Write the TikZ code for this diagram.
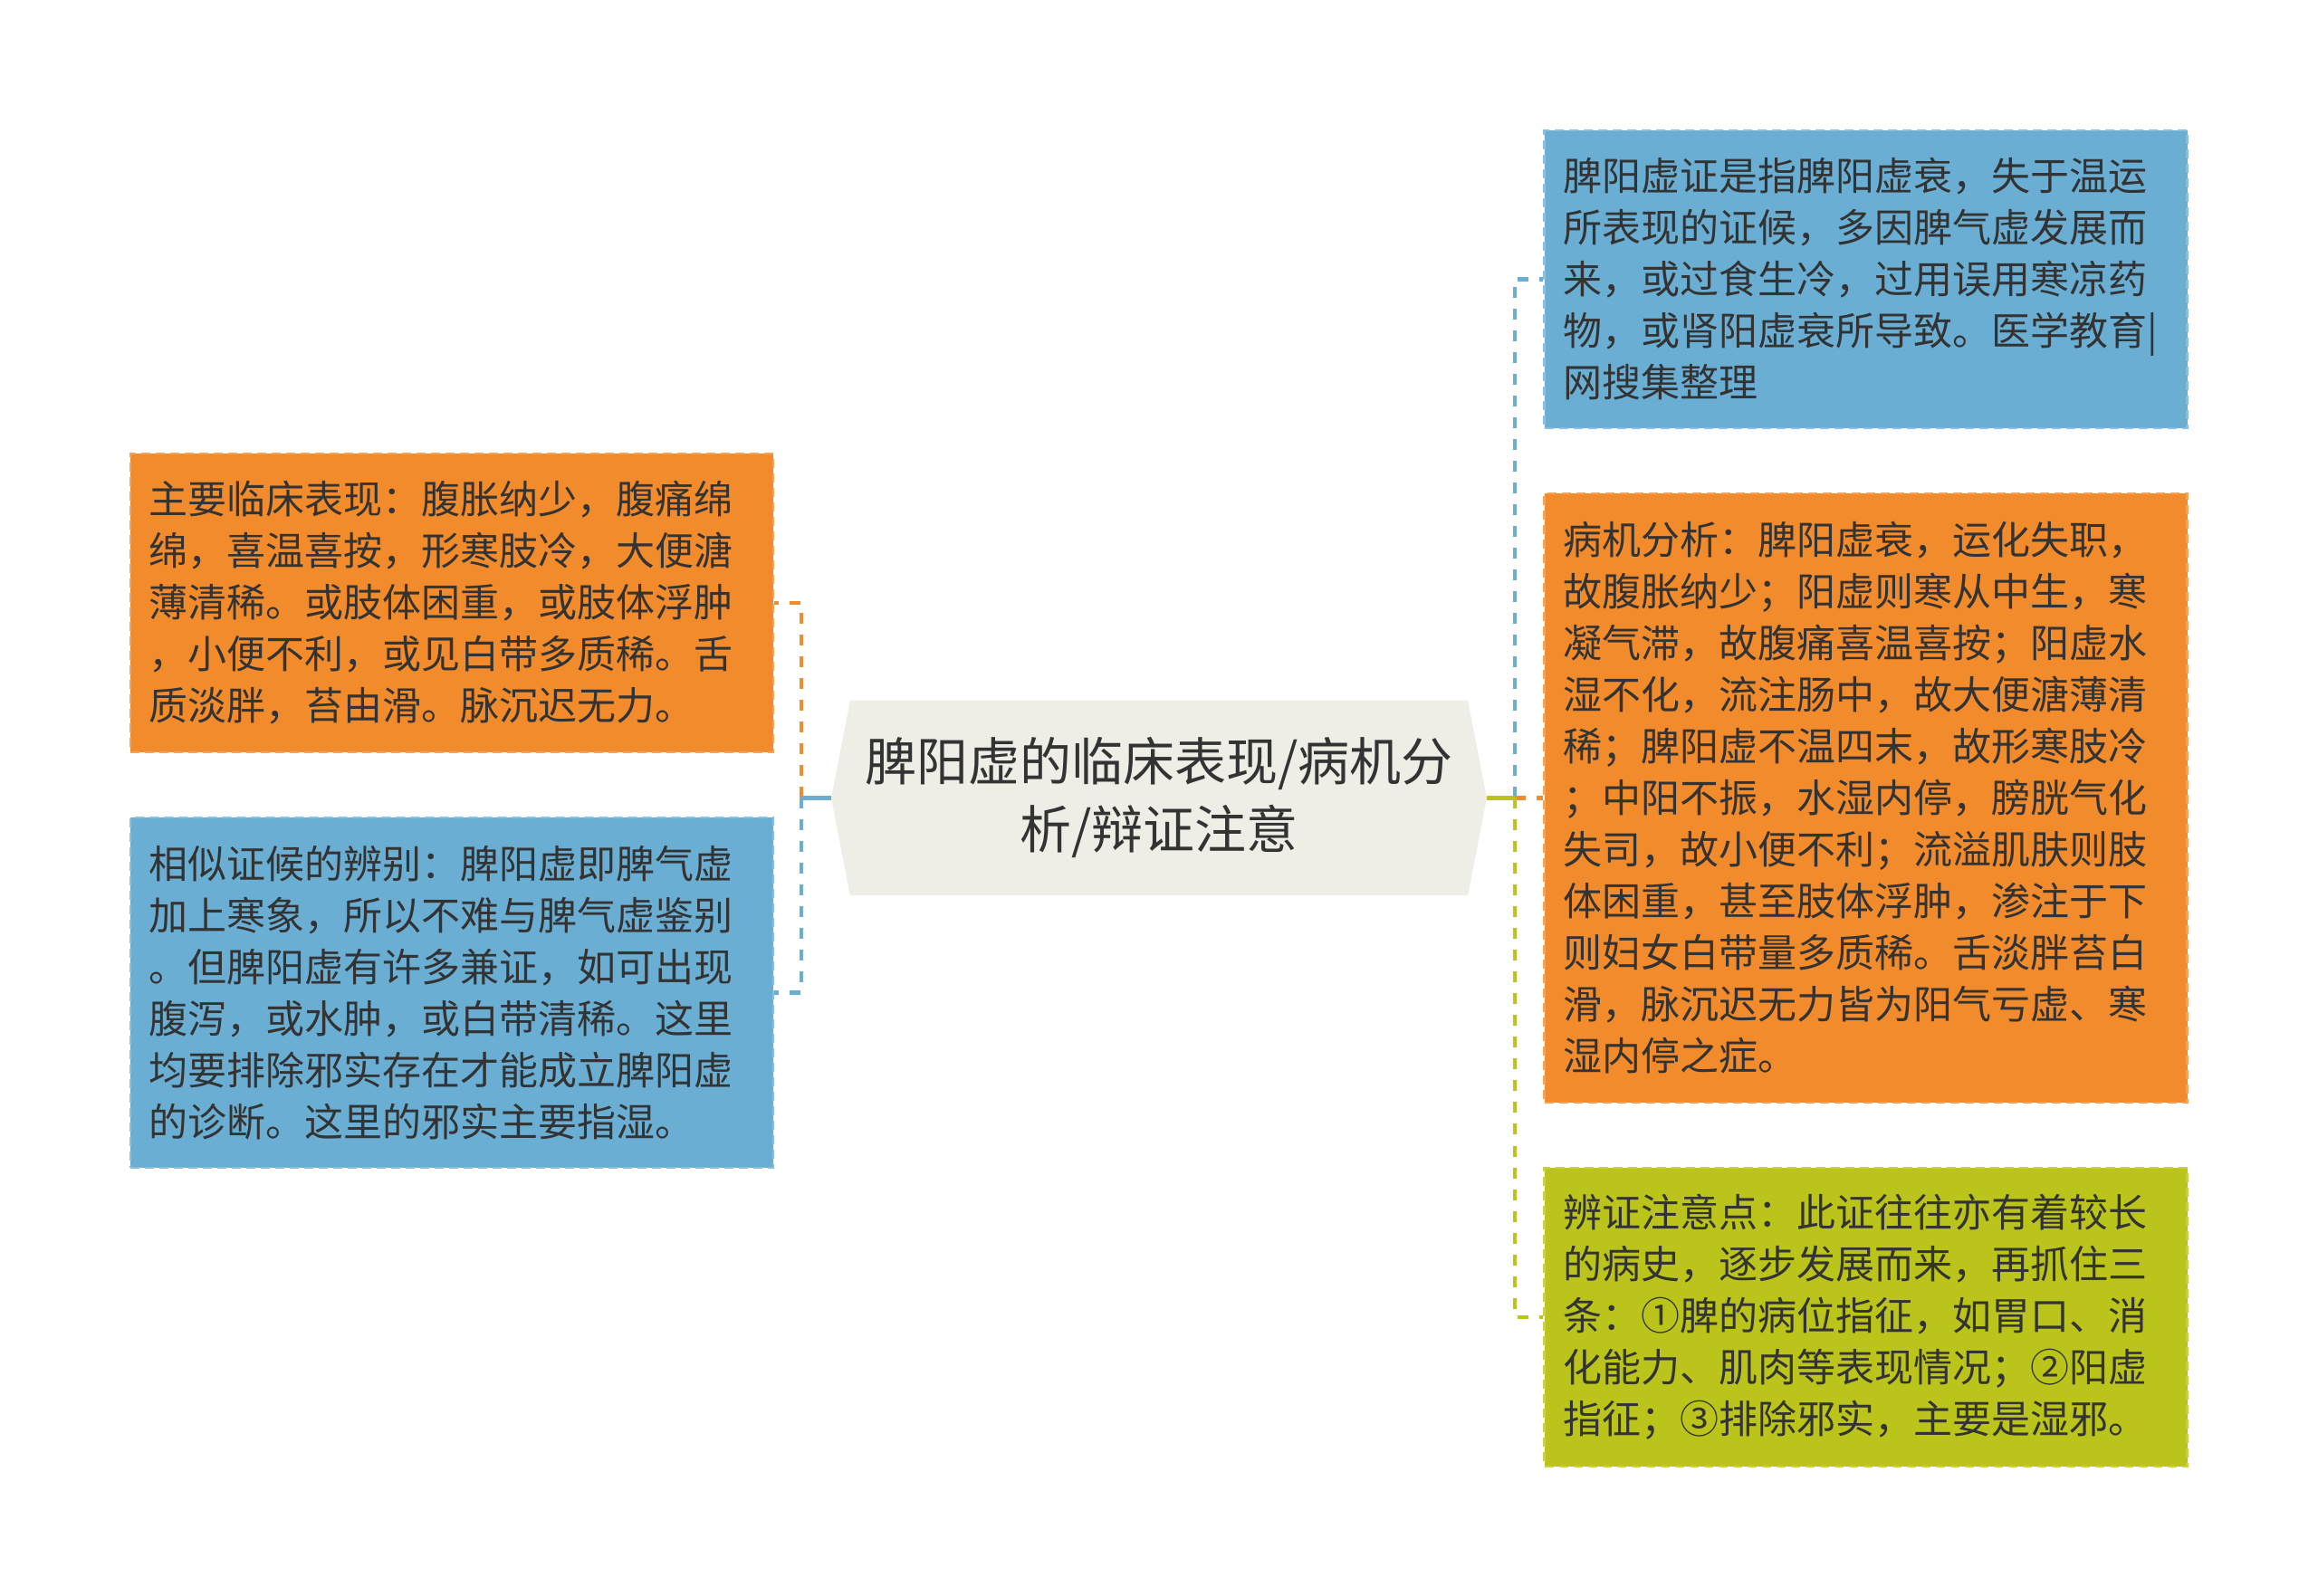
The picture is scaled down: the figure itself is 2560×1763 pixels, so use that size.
\documentclass[tikz,border=0pt]{standalone}
\usepackage{fontspec}
\setmainfont{Noto Sans CJK SC}
\usetikzlibrary{positioning,shapes.symbols}
\definecolor{orangefill}{RGB}{242,139,44}
\definecolor{bluefill}{RGB}{106,175,211}
\definecolor{greenfill}{RGB}{187,196,26}
\definecolor{rootfill}{RGB}{238,238,230}
\definecolor{textgray}{RGB}{51,51,51}

\begin{document}
\begin{tikzpicture}[x=1pt,y=1pt,node distance=780pt,
		leaf/.style={rectangle,line width=2.5pt,dash pattern=on 10pt off 6pt,text width=668pt,inner xsep=21pt,inner ysep=0pt,align=left,font=\fontsize{43}{57}\selectfont,text=textgray},
		orangebox/.style={leaf,fill=orangefill,draw=orangefill!80!white},
		bluebox/.style={leaf,fill=bluefill,draw=bluefill!80!white},
		greenbox/.style={leaf,fill=greenfill,draw=greenfill!80!white},
		link/.style={line width=4.5pt,dash pattern=on 12pt off 12pt},
		stub/.style={line width=4.5pt},
		elbow/.style={to path={|- (\tikztotarget)}}]
			\fill	[white]	(-1280,-881.5)	rectangle	(1280,881.5);
			\useasboundingbox	(-1280,-881.5)	rectangle	(1280,881.5);

			\node	[signal, signal to=west and east, signal pointer angle=158, fill=rootfill, minimum width=724pt, minimum height=215pt, inner sep=0pt, align=center, text=textgray, font=\fontsize{57}{75}\selectfont]	(root)	at (0,0)	{脾阳虚的临床表现/病机分\\析/辩证注意};

			\node	[orangebox, minimum height=330pt]	(clin)	[left of=root, xshift=-1pt, yshift=215.5pt]	{主要临床表现：腹胀纳少，腹痛绵\\绵，喜温喜按，形寒肢冷，大便溏\\薄清稀。或肢体困重，或肢体浮肿\\，小便不利，或见白带多质稀。舌\\质淡胖，苔由滑。脉沉迟无力。};
			\node	[bluebox, minimum height=387pt]		(diff)	[left of=root, xshift=-1pt, yshift=-215pt]	{相似证候的辨别：脾阳虚即脾气虚\\加上寒象，所以不难与脾气虚鉴别\\。但脾阳虚有许多兼证，如可出现\\腹泻，或水肿，或白带清稀。这里\\均要排除邪实存在才能成立脾阳虚\\的诊断。这里的邪实主要指湿。};
			\node	[bluebox, minimum height=329pt]		(defn)	[right of=root, xshift=0.5pt, yshift=573pt]	{脾阳虚证是指脾阳虚衰，失于温运\\所表现的证候，多因脾气虚发展而\\来，或过食生冷，过用误用寒凉药\\物，或肾阳虚衰所导致。医学教育|\\网搜集整理};
			\node	[orangebox, minimum height=673pt]	(mech)	[right of=root, xshift=0.5pt]	{病机分析：脾阳虚衰，运化失职，\\故腹胀纳少；阳虚则寒从中生，寒\\凝气滞，故腹痛喜温喜按；阳虚水\\湿不化，流注肠中，故大便溏薄清\\稀；脾阳虚不温四末，故形寒肢冷\\；中阳不振，水湿内停，膀胱气化\\失司，故小便不利；流溢肌肤则肢\\体困重，甚至肢体浮肿，渗注于下\\则妇女白带量多质稀。舌淡胖苔白\\滑，脉沉迟无力皆为阳气亏虚、寒\\湿内停之症。};
			\node	[greenbox, minimum height=330pt]	(note)	[right of=root, xshift=0.5pt, yshift=-573.5pt]	{辨证注意点：此证往往亦有着较长\\的病史，逐步发展而来，再抓住三\\条：①脾的病位指征，如胃口、消\\化能力、肌肉等表现情况；②阳虚\\指征；③排除邪实，主要是湿邪。};

			\coordinate	(ltrunk)	at ([xshift=-33pt]root.west);
			\coordinate	(rtrunk)	at ([xshift=31pt]root.east);

			\path
				(root.west)	edge	[stub, draw=orangefill]			(ltrunk)
				(ltrunk)	edge	[link, elbow, draw=orangefill]	(clin)
				(root.west)	edge	[stub, draw=bluefill]			(ltrunk)
				(ltrunk)	edge	[link, elbow, draw=bluefill]		(diff)
				(root.east)	edge	[stub, draw=bluefill]			(rtrunk)
				(rtrunk)	edge	[link, elbow, draw=bluefill]		(defn)
				(root.east)	edge	[stub, draw=orangefill]			(rtrunk)
				(rtrunk)	edge	[link, elbow, draw=orangefill]	(mech)
				(root.east)	edge	[stub, draw=greenfill]			(rtrunk)
				(rtrunk)	edge	[link, elbow, draw=greenfill]	(note)
			;
		\end{tikzpicture}
\end{document}
